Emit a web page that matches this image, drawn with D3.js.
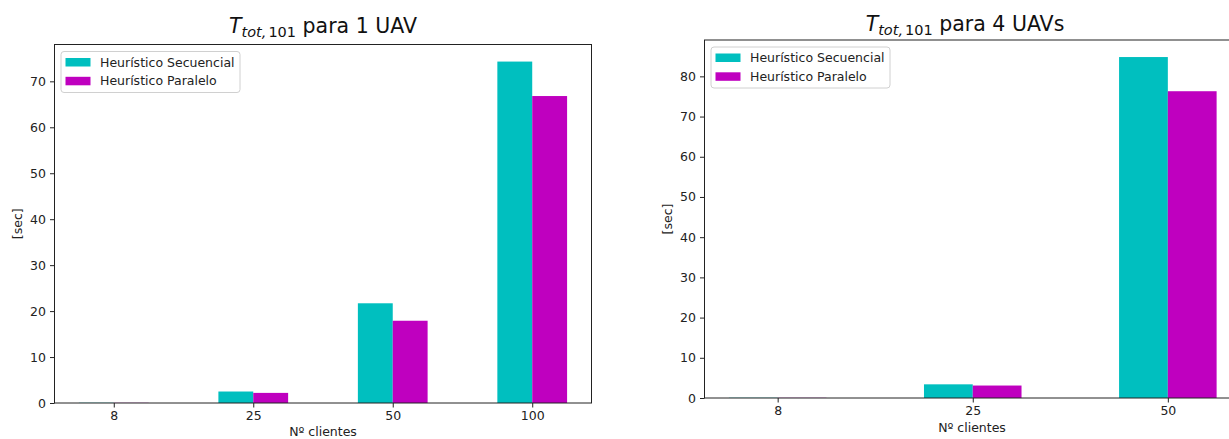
<!DOCTYPE html>
<html>
<head>
<meta charset="utf-8">
<script src="https://cdn.jsdelivr.net/npm/d3@7"></script>
<style>
  body { margin: 0; background: #fff; }
  svg { display: block; font-family: "DejaVu Sans", sans-serif; }
</style>
</head>
<body>
<div class="d3-chart"></div>
<script>
// data
const seriesNames = ["Heurístico Secuencial", "Heurístico Paralelo"];
const categories1 = ["8", "25", "50", "100"];
const secuencial1 = [0.05, 2.5, 21.7, 74.3];
const paralelo1 = [0.04, 2.2, 17.9, 66.8];
const yTicks1 = [0, 10, 20, 30, 40, 50, 60, 70];

const categories4 = ["8", "25", "50"];
const secuencial4 = [0.06, 3.4, 84.8];
const paralelo4 = [0.05, 3.1, 76.3];
const yTicks4 = [0, 10, 20, 30, 40, 50, 60, 70, 80];

const colors = ["#00bfbf", "#bf00bf"];

const svg = d3.select(".d3-chart")
  .append("svg")
  .attr("width", 1229)
  .attr("height", 439);

function drawPanel(opts) {
  const {cats, a, b, ticks, left, right, top, bottom, titleX, titleY, nUav, xLabelY} = opts;
  const n = cats.length;
  const pad = (n - 0.5) * 0.05;  // matplotlib 5% margins
  const x = d3.scaleLinear()
    .domain([-0.25 - pad, n - 0.75 + pad])
    .range([left, right]);
  const yMax = Math.max(...a, ...b) * 1.05;
  const y = d3.scaleLinear()
    .domain([0, yMax])
    .range([bottom, top]);

  const g = svg.append("g");

  // bars
  [a, b].forEach((vals, s) => {
    g.append("g").selectAll("rect")
      .data(vals)
      .join("rect")
      .attr("x", (d, i) => x(i - 0.25 + s * 0.25))
      .attr("width", x(0.25) - x(0))
      .attr("y", d => y(d))
      .attr("height", d => y(0) - y(d))
      .attr("fill", colors[s]);
  });

  // axes
  const xAxis = g.append("g")
    .attr("transform", `translate(0,${bottom})`)
    .call(d3.axisBottom(x)
      .tickValues(d3.range(n))
      .tickFormat(i => cats[i])
      .tickSize(4.5)
      .tickPadding(4));
  const yAxis = g.append("g")
    .attr("transform", `translate(${left},0)`)
    .call(d3.axisLeft(y)
      .tickValues(ticks)
      .tickSize(4.5)
      .tickPadding(4));
  [xAxis, yAxis].forEach(ax => {
    ax.select(".domain").remove();
    ax.selectAll("text").attr("font-size", 12.5).attr("fill", "#222")
      .attr("font-family", "DejaVu Sans");
    ax.selectAll("line").attr("stroke", "#222");
  });

  // frame
  g.append("rect")
    .attr("x", left)
    .attr("y", top)
    .attr("width", right - left)
    .attr("height", bottom - top)
    .attr("fill", "none")
    .attr("stroke", "#222")
    .attr("stroke-width", 1);

  // title with math-style subscript
  const t = g.append("text")
    .attr("x", titleX)
    .attr("y", titleY)
    .attr("text-anchor", "middle")
    .attr("font-size", 20.5)
    .attr("fill", "#111");
  t.append("tspan").attr("font-style", "italic").text("T");
  t.append("tspan").attr("font-style", "italic").attr("font-size", 14.5).attr("dy", 4).text("tot,");
  t.append("tspan").attr("font-size", 14.5).attr("dx", 2).text("101");
  t.append("tspan").attr("dy", -4).text(` para ${nUav}`);

  // axis labels
  g.append("text")
    .attr("x", opts.xLabelX)
    .attr("y", xLabelY)
    .attr("text-anchor", "middle")
    .attr("font-size", 12.5)
    .attr("fill", "#222")
    .text("Nº clientes");
  g.append("text")
    .attr("transform", `translate(${opts.yLabelX},${(top + bottom) / 2}) rotate(-90)`)
    .attr("text-anchor", "middle")
    .attr("font-size", 12.5)
    .attr("fill", "#222")
    .text("[sec]");

  // legend
  const lg = g.append("g").attr("transform", `translate(${left + 6.5},${top + 7})`);
  lg.append("rect")
    .attr("width", 179)
    .attr("height", 41)
    .attr("rx", 3)
    .attr("fill", "#fff")
    .attr("fill-opacity", 0.8)
    .attr("stroke", "#d0d0d0");
  seriesNames.forEach((name, i) => {
    lg.append("rect")
      .attr("x", 4.5)
      .attr("y", 6.5 + i * 18.8)
      .attr("width", 25)
      .attr("height", 8.5)
      .attr("fill", colors[i]);
    lg.append("text")
      .attr("x", 39)
      .attr("y", 15 + i * 18.8)
      .attr("font-size", 12.5)
      .attr("fill", "#222")
      .text(name);
  });
}

drawPanel({
  cats: categories1, a: secuencial1, b: paralelo1, ticks: yTicks1,
  left: 54.5, right: 591.5, top: 44.5, bottom: 403,
  titleX: 323, titleY: 33, nUav: "1 UAV",
  xLabelX: 323, xLabelY: 436, yLabelX: 22
});

drawPanel({
  cats: categories4, a: secuencial4, b: paralelo4, ticks: yTicks4,
  left: 704.5, right: 1241, top: 40, bottom: 398,
  titleX: 965, titleY: 31, nUav: "4 UAVs",
  xLabelX: 972, xLabelY: 432, yLabelX: 672
});
</script>
</body>
</html>
